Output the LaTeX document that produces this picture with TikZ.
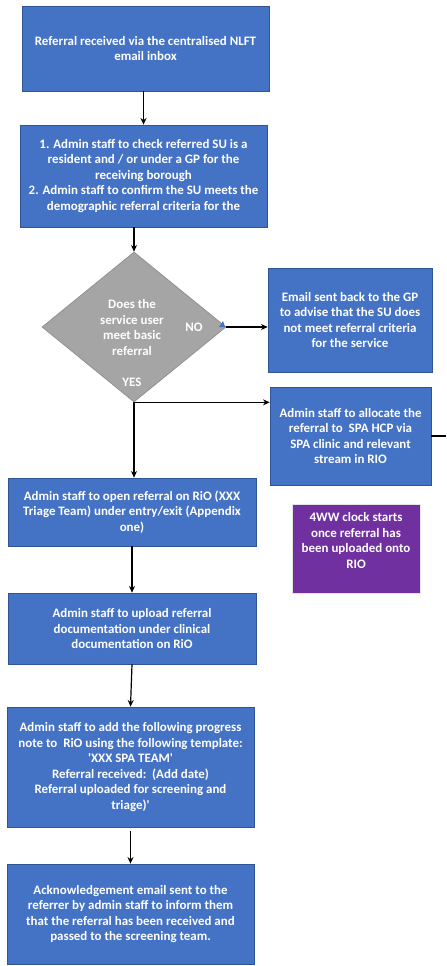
\documentclass[tikz,border=0pt]{standalone}
\usepackage{fontspec}
\setmainfont{Carlito}[Ligatures=TeXOff]
\usetikzlibrary{shapes.geometric,arrows.meta}
\definecolor{boxblue}{HTML}{4472C4}
\definecolor{boxedge}{HTML}{2F5597}
\definecolor{diagrey}{HTML}{A5A5A5}
\definecolor{clockpurple}{HTML}{7030A0}
\tikzset{
  flowbox/.style={rectangle, fill=boxblue, draw=boxedge, line width=0.5pt, inner sep=0pt},
  txt/.style={text=white, font=\bfseries\fontsize{9.7}{11.6}\selectfont, align=center},
  decide/.style={diamond, fill=diagrey, draw=diagrey!85!black, line width=0.5pt, inner sep=0pt},
  clockbox/.style={rectangle, fill=clockpurple, draw=white!80!gray, line width=0.6pt, inner sep=0pt},
  arr/.style={draw=black, line width=0.9pt, -{Stealth[length=5pt,width=4.5pt]}},
  plain/.style={draw=black, line width=0.9pt}
}
\begin{document}
\begin{tikzpicture}[x=0.75pt,y=-0.75pt]
\useasboundingbox (0,0) rectangle (446,966);
\fill[white] (0,0) rectangle (446,966);

\node[flowbox, txt, minimum width=185.25pt, minimum height=63.75pt] (recv) at (145.5,48.5)
  {Referral received via the centralised NLFT\\email inbox};
\node[flowbox, txt, minimum width=185.25pt, minimum height=76.5pt] (check) at (143.5,176)
  {1. Admin staff to check referred SU is a\\resident and / or under a GP for the\\receiving borough\\2. Admin staff to confirm the SU meets the\\demographic referral criteria for the};
\node[decide, minimum width=138pt, minimum height=112.5pt] (dia) at (134,327) {};
\node[txt] (diatext) at (132,327.5) {Does the\\service user\\meet basic\\referral};
\node[txt] (nolab) at (194,327) {NO};
\node[txt] (yeslab) at (132,382) {YES};
\fill[boxblue] (219,327) -- (225,327) -- (223,321) -- cycle;

\node[flowbox, txt, minimum width=123pt, minimum height=78pt] (email) at (350,320)
  {Email sent back to the GP\\to advise that the SU does\\not meet referral criteria\\for the service};
\node[flowbox, txt, minimum width=120.75pt, minimum height=73.5pt] (alloc) at (350.5,436)
  {Admin staff to allocate the\\referral to\ \ SPA HCP via\\SPA clinic and relevant\\stream in RIO};
\coordinate (edge) at (446,436);

\node[flowbox, txt, minimum width=186pt, minimum height=51pt] (open) at (132,512)
  {Admin staff to open referral on RiO (XXX\\Triage Team) under entry/exit (Appendix\\one)};
\node[clockbox, minimum width=96pt, minimum height=66.75pt] (clock) at (356,548.5) {};
\node[txt] (clocktext) at (356,540.5) {4WW clock starts\\once referral has\\been uploaded onto\\RIO};

\node[flowbox, txt, minimum width=186pt, minimum height=53.25pt] (upload) at (132,628.5)
  {Admin staff to upload referral\\documentation under clinical\\documentation on RiO};
\node[flowbox, txt, minimum width=185.25pt, minimum height=90pt] (note) at (130.5,767)
  {Admin staff to add the following progress\\note to\ \ RiO using the following template:\\'XXX SPA TEAM'\\Referral received:\ \ (Add date)\\Referral uploaded for screening and\\triage)'};
\node[flowbox, txt, minimum width=185.25pt, minimum height=75pt] (ack) at (130.5,914)
  {Acknowledgement email sent to the\\referrer by admin staff to inform them\\that the referral has been received and\\passed to the screening team.};

\draw[arr] (recv.south -| check.north) -- (check.north);
\draw[arr] (check.south -| dia.north) -- (dia.north);
\draw[arr] (dia.east) -- (dia.east -| email.west);
\draw[arr] (dia.south) -- (dia.south -| alloc.west);
\draw[arr] (dia.south) -- (dia.south |- open.north);
\draw[plain] (alloc.east) -- (edge);
\draw[arr] (open.south) -- (upload.north);
\draw[arr] (upload.south) -- (note.north);
\draw[arr] ([yshift=-3pt]note.south) -- (ack.north);
\end{tikzpicture}
\end{document}
